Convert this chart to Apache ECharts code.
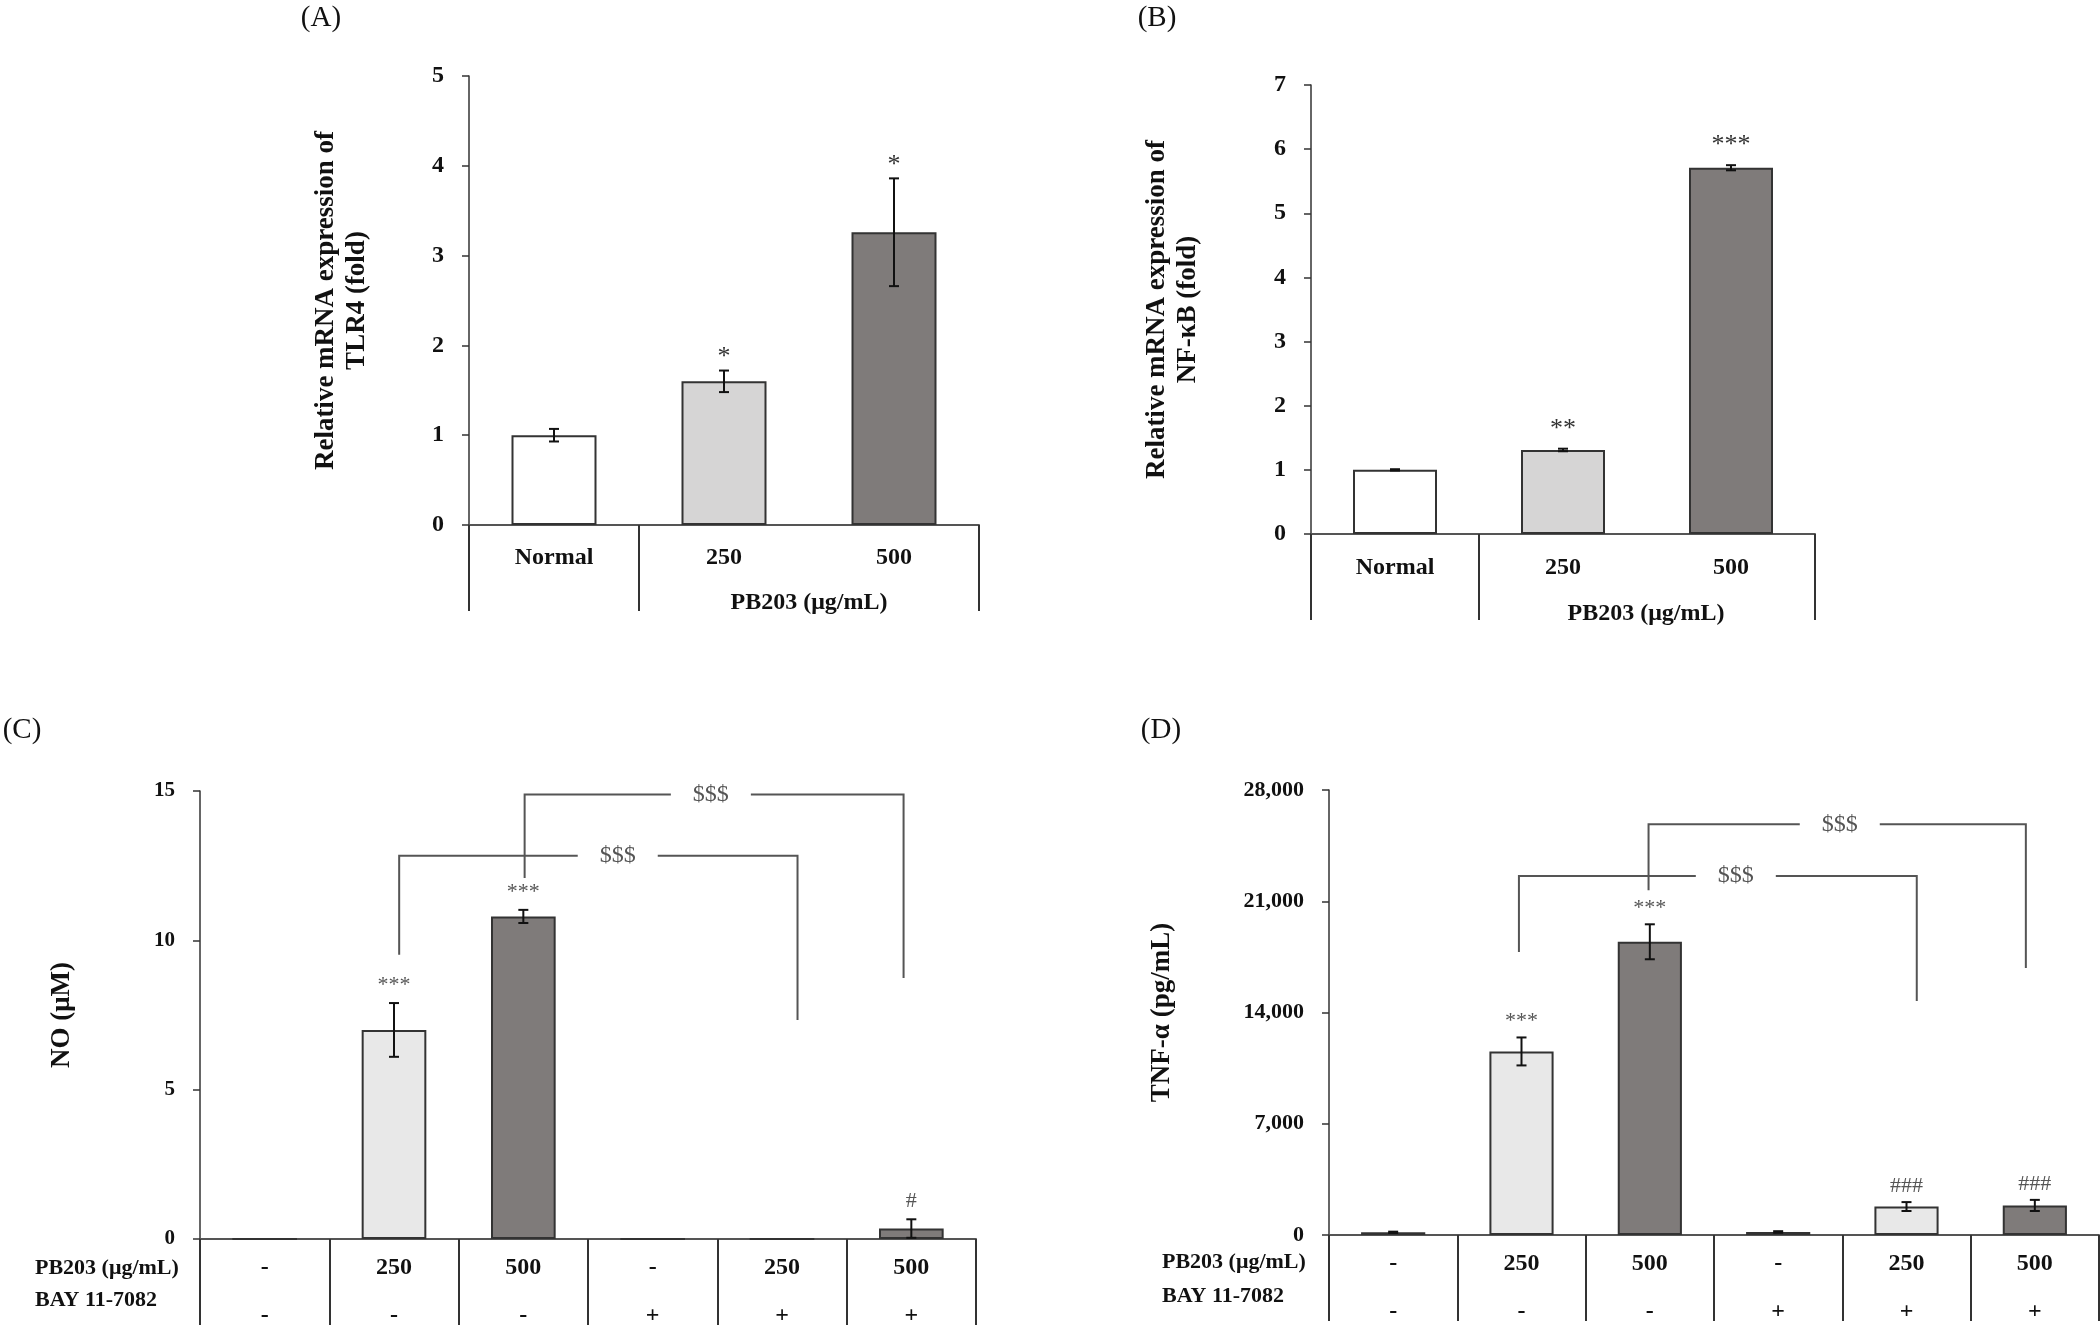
<!DOCTYPE html>
<html><head><meta charset="utf-8">
<script src="https://cdn.jsdelivr.net/npm/echarts@6/dist/echarts.min.js"></script>
<style>html,body{margin:0;padding:0;background:#fff}#c{width:2100px;height:1330px}</style>
</head><body><div id="c"></div>
<script>
// ---------- data ----------
const catA = ['Normal', '250', '500'];
const tlr4 = [1.0, 1.6, 3.26];
const tlr4Err = [0.07, 0.12, 0.6];
const tlr4Sig = ['', '*', '*'];

const catB = ['Normal', '250', '500'];
const nfkb = [1.0, 1.31, 5.71];
const nfkbErr = [0.01, 0.02, 0.04];
const nfkbSig = ['', '**', '***'];

const pb203Row = ['-', '250', '500', '-', '250', '500'];
const bayRow = ['-', '-', '-', '+', '+', '+'];

const no = [0, 7.0, 10.8, 0, 0, 0.35];
const noErr = [0, 0.9, 0.22, 0, 0, 0.31];
const noSig = ['', '***', '***', '', '', '#'];

const tnf = [170, 11550, 18450, 190, 1790, 1860];
const tnfErr = [40, 880, 1100, 50, 280, 350];
const tnfSig = ['', '***', '***', '', '###', '###'];

// brackets (category-index units for x): [fromIndex, toIndex, topValue, leftEndValue, rightEndValue, labelIndex]
const noBrackets = [[1.04, 4.12, 12.83, 9.52, 7.33, 2.73], [2.01, 4.94, 14.88, 12.09, 8.74, 3.45]];
const tnfBrackets = [[0.98, 4.08, 22590, 17800, 14730, 2.67], [1.99, 4.93, 25840, 21700, 16800, 3.48]];

// ---------- styles ----------
const SERIF = '"Liberation Serif","Times New Roman",serif';
const colorsAB = ['#ffffff', '#d6d5d5', '#7f7b7a'];
const colorsCD = ['#ffffff', '#e8e8e8', '#7f7b7a', '#ffffff', '#e8e8e8', '#7f7b7a'];

const chart = echarts.init(document.getElementById('c'), null, {renderer: 'canvas'});

function yAxis(gi, min, max, interval, name, nameGap, labelSize, fmt) {
  return {
    type: 'value', gridIndex: gi, min: min, max: max, interval: interval,
    name: name, nameLocation: 'middle', nameRotate: 90, nameGap: nameGap,
    nameTextStyle: {fontFamily: SERIF, fontWeight: 'bold', fontSize: 27, lineHeight: 31, color: '#111'},
    axisLine: {show: true, lineStyle: {color: '#333', width: 1.5}},
    axisTick: {show: true, length: 7, lineStyle: {color: '#333', width: 1.5}},
    axisLabel: {fontFamily: SERIF, fontWeight: 'bold', fontSize: labelSize, color: '#111', margin: 25,
      formatter: fmt || null},
    splitLine: {show: false}
  };
}

function xMain(gi, data, tickInterval, margin) {
  return {
    type: 'category', gridIndex: gi, data: data, position: 'bottom',
    axisLine: {show: true, onZero: false, lineStyle: {color: '#555', width: 2}},
    axisTick: {show: true, length: 86, interval: tickInterval, lineStyle: {color: '#333', width: 2}},
    axisLabel: {fontFamily: SERIF, fontWeight: 'bold', fontSize: 24, color: '#111', margin: margin, interval: 0}
  };
}

function xSecond(gi, data) {
  return {
    type: 'category', gridIndex: gi, data: data, position: 'bottom', offset: 48,
    axisLine: {show: false}, axisTick: {show: false},
    axisLabel: {fontFamily: SERIF, fontWeight: 'bold', fontSize: 24, color: '#111', margin: 17, interval: 0}
  };
}

function barSeries(xi, yi, vals, colors) {
  return {
    type: 'bar', xAxisIndex: xi, yAxisIndex: yi, barWidth: '50%', z: 2,
    data: vals.map((v, i) => ({value: v, itemStyle: {color: colors[i]}})),
    itemStyle: {borderColor: '#333', borderWidth: 2},
    emphasis: {disabled: true}, animation: false
  };
}

function errSeries(xi, yi, vals, errs, sigs, sigFont, sigColor, sigOffset) {
  return {
    type: 'custom', xAxisIndex: xi, yAxisIndex: yi, z: 5, clip: false, silent: true,
    encode: {x: 0, y: 1},
    data: vals.map((v, i) => [i, v, errs[i]]),
    renderItem: function (params, api) {
      const i = api.value(0), v = api.value(1), e = api.value(2);
      const hi = api.coord([i, v + e]), lo = api.coord([i, v - e]);
      const st = {stroke: '#111', lineWidth: 2};
      const ch = [];
      if (e > 0) {
        ch.push({type: 'line', shape: {x1: hi[0], y1: hi[1], x2: lo[0], y2: lo[1]}, style: st});
        ch.push({type: 'line', shape: {x1: hi[0] - 5, y1: hi[1], x2: hi[0] + 5, y2: hi[1]}, style: st});
        ch.push({type: 'line', shape: {x1: lo[0] - 5, y1: lo[1], x2: lo[0] + 5, y2: lo[1]}, style: st});
      }
      const s = sigs[params.dataIndex];
      if (s) {
        ch.push({type: 'text', x: hi[0], y: hi[1] - sigOffset,
          style: {text: s, fill: sigColor, fontFamily: SERIF, fontSize: sigFont, align: 'center', verticalAlign: 'middle'}});
      }
      return {type: 'group', children: ch};
    }
  };
}

function bracketSeries(xi, yi, rows) {
  return {
    type: 'custom', xAxisIndex: xi, yAxisIndex: yi, z: 4, clip: false, silent: true,
    encode: {x: 0, y: 2},
    data: rows,
    renderItem: function (params, api) {
      const a = api.value(0), b = api.value(1), top = api.value(2);
      const le = api.value(3), re = api.value(4), lbl = api.value(5);
      // fractional category positions: interpolate along the band scale
      const x0 = api.coord([0, top])[0], x1 = api.coord([1, top])[0];
      const px = t => x0 + t * (x1 - x0);
      const yTop = api.coord([0, top])[1];
      const yL = api.coord([0, le])[1], yR = api.coord([0, re])[1];
      const xl = px(a), xr = px(b), lx = px(lbl);
      const gap = 40;
      const st = {stroke: '#555', lineWidth: 2, fill: null};
      return {type: 'group', children: [
        {type: 'polyline', shape: {points: [[xl, yL], [xl, yTop], [lx - gap, yTop]]}, style: st},
        {type: 'polyline', shape: {points: [[lx + gap, yTop], [xr, yTop], [xr, yR]]}, style: st},
        {type: 'text', x: lx, y: yTop,
          style: {text: '$$$', fill: '#555', fontFamily: SERIF, fontSize: 24, align: 'center', verticalAlign: 'middle'}}
      ]};
    }
  };
}

function txt(x, y, s, opts) {
  return Object.assign({type: 'text', x: x, y: y, silent: true,
    style: Object.assign({text: s, fill: '#111', fontFamily: SERIF, fontSize: 24, align: 'center', verticalAlign: 'middle'}, opts || {})});
}

const tnfFmt = v => v.toLocaleString('en-US');

const option = {
  animation: false,
  backgroundColor: '#fff',
  grid: [
    {left: 469, top: 76, width: 510, height: 449, outerBoundsMode: 'none', containLabel: false},
    {left: 1311, top: 85, width: 504, height: 449, outerBoundsMode: 'none', containLabel: false},
    {left: 200, top: 791, width: 776, height: 448, outerBoundsMode: 'none', containLabel: false},
    {left: 1329, top: 790, width: 770, height: 445, outerBoundsMode: 'none', containLabel: false}
  ],
  xAxis: [
    xMain(0, catA, idx => idx < 2, 21),
    xMain(1, catB, idx => idx < 2, 22),
    xMain(2, pb203Row, 0, 17),
    xSecond(2, bayRow),
    xMain(3, pb203Row, 0, 17),
    xSecond(3, bayRow)
  ],
  yAxis: [
    yAxis(0, 0, 5, 1, 'Relative mRNA expression of\nTLR4 (fold)', 96, 24),
    yAxis(1, 0, 7, 1, 'Relative mRNA expression of\nNF-\u03baB (fold)', 107, 24),
    yAxis(2, 0, 15, 5, 'NO (\u03bcM)', 122, 21),
    yAxis(3, 0, 28000, 7000, 'TNF-\u03b1 (pg/mL)', 151, 22, tnfFmt)
  ],
  series: [
    barSeries(0, 0, tlr4, colorsAB),
    errSeries(0, 0, tlr4, tlr4Err, tlr4Sig, 26, '#333', 13),
    barSeries(1, 1, nfkb, colorsAB),
    errSeries(1, 1, nfkb, nfkbErr, nfkbSig, 26, '#333', 20),
    barSeries(2, 2, no, colorsCD),
    errSeries(2, 2, no, noErr, noSig, 22, '#555', 18),
    bracketSeries(2, 2, noBrackets),
    barSeries(4, 3, tnf, colorsCD),
    errSeries(4, 3, tnf, tnfErr, tnfSig, 22, '#555', 16),
    bracketSeries(4, 3, tnfBrackets)
  ],
  graphic: [
    txt(321, 18, '(A)', {fontSize: 29, fill: '#111'}),
    txt(1157, 18, '(B)', {fontSize: 29, fill: '#111'}),
    txt(22, 730, '(C)', {fontSize: 29, fill: '#111'}),
    txt(1161, 730, '(D)', {fontSize: 29, fill: '#111'}),
    txt(809, 603, 'PB203 (\u03bcg/mL)', {fontWeight: 'bold'}),
    txt(1646, 614, 'PB203 (\u03bcg/mL)', {fontWeight: 'bold'}),
    txt(35, 1268, 'PB203 (\u03bcg/mL)', {fontWeight: 'bold', fontSize: 22, align: 'left'}),
    txt(35, 1300, 'BAY 11-7082', {fontWeight: 'bold', fontSize: 22, align: 'left'}),
    txt(1162, 1262, 'PB203 (\u03bcg/mL)', {fontWeight: 'bold', fontSize: 22, align: 'left'}),
    txt(1162, 1296, 'BAY 11-7082', {fontWeight: 'bold', fontSize: 22, align: 'left'})
  ]
};
chart.setOption(option);
</script>
</body></html>
